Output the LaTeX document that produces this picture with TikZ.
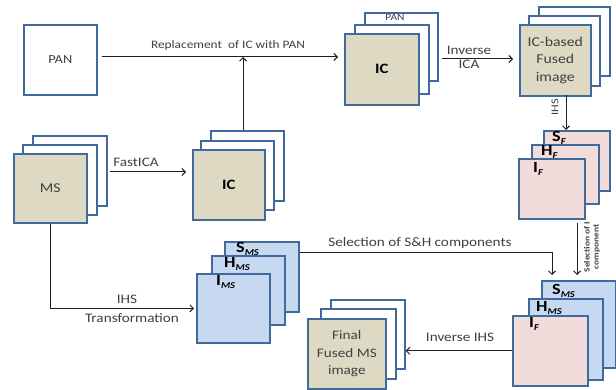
\documentclass[tikz,border=0pt]{standalone}
\usepackage{fontspec}
\setmainfont{Carlito}[FakeStretch=1.17]
\usetikzlibrary{arrows.meta,calc}
\definecolor{bord}{RGB}{65,106,156}
\definecolor{tanf}{RGB}{221,217,195}
\definecolor{bluef}{RGB}{198,217,241}
\definecolor{pinkf}{RGB}{242,220,219}
\definecolor{txt}{RGB}{64,64,64}
\definecolor{ln}{RGB}{30,30,30}
\newcommand{\fsz}[2]{\fontsize{#1}{#2}\selectfont}
\newcommand{\sublbl}[2]{{\fsz{15.5}{15.5}\bfseries #1}{\fsz{9}{9}\bfseries\itshape\raisebox{-2.5pt}{#2}}}
\newcommand{\bxn}[6]{\node[#1, minimum width=#4pt, minimum height=#5pt] (#2) at (#3) {#6};}
\begin{document}
\begin{tikzpicture}[x=1pt,y=-1pt,
  bx/.style={draw=bord, line width=1.6pt, rectangle, inner sep=0pt, anchor=north west, text=txt, align=center},
  wb/.style={bx, fill=white},
  tb/.style={bx, fill=tanf},
  bb/.style={bx, fill=bluef},
  pb/.style={bx, fill=pinkf},
  lbl/.style={text=txt, inner sep=0pt, align=center},
  sl/.style={text=black, inner sep=0pt, anchor=west},
  conn/.style={draw=ln, line width=1pt, -{Straight Barb[length=3.5pt,width=7pt]}},
]
\useasboundingbox (0,0) rectangle (616,390);
\fill[white] (0,0) rectangle (616,390);

% PAN
\bxn{wb, font=\fsz{12.3}{14}}{PAN}{23,24}{73}{70}{PAN}

% IC stack (top)
\bxn{wb}{ICtb}{364,12}{73}{68}{}
\node[lbl, font=\fsz{9.8}{10}] (lpan) at (395,17) {PAN};
\bxn{wb}{ICtm}{354,24}{74}{69}{}
\bxn{tb, font=\fsz{14.3}{15}\bfseries, text=black}{ICtf}{344,33}{74}{71}{IC}

% IC-based fused stack
\bxn{wb}{ICFb}{538,6}{71}{69}{}
\bxn{wb}{ICFm}{528,15}{71}{70}{}
\bxn{tb, font=\fsz{13.5}{17.7}}{ICFf}{519,24}{71}{71}{IC-based\\Fused\\image}

% pink stack F
\bxn{pb}{Pb}{543,130}{66}{60}{}
\node[sl] (sF) at (552,138) {\sublbl{S}{F}};
\bxn{pb}{Pm}{531,144}{67}{59}{}
\node[sl] (hF) at (541,152) {\sublbl{H}{F}};
\bxn{pb}{Pf}{518,158}{66}{60}{}
\node[sl] (iF) at (533,169) {\sublbl{I}{F}};

% MS stack
\bxn{wb}{MSb}{32,135}{74}{70}{}
\bxn{wb}{MSm}{22,144}{74}{70}{}
\bxn{tb, font=\fsz{13.5}{15}}{MSf}{13,153}{73}{69}{MS}

% IC stack (middle)
\bxn{wb}{IC2b}{210,130}{73}{70}{}
\bxn{wb}{IC2m}{200,140}{73}{69}{}
\bxn{tb, font=\fsz{14.3}{15}\bfseries, text=black}{IC2f}{192,149}{72}{70}{IC}

% blue stack MS
\bxn{bb}{Bb}{224,241}{74}{70}{}
\node[sl] (sMS) at (236,249) {\sublbl{S}{MS}};
\bxn{bb}{Bm}{211,255}{73}{69}{}
\node[sl] (hMS) at (224,264) {\sublbl{H}{MS}};
\bxn{bb}{Bf}{196,273}{73}{69}{}
\node[sl] (iMS) at (216,282) {\sublbl{I}{MS}};

% bottom-right stack
\bxn{bb}{BRb}{541,280}{74}{87}{}
\node[sl] (sMS2) at (552,291) {\sublbl{S}{MS}};
\bxn{bb}{BRm}{528,298}{74}{81}{}
\node[sl] (hMS2) at (536,308) {\sublbl{H}{MS}};
\bxn{pb}{BRf}{512,315}{75}{70}{}
\node[sl] (iF2) at (529,324) {\sublbl{I}{F}};

% final stack
\bxn{wb}{Fb}{330,299}{74}{69}{}
\bxn{wb}{Fm}{320,308}{75}{70}{}
\bxn{tb, font=\fsz{13}{17.8}}{Ff}{307,318}{78}{70}{Final\\Fused MS\\image}

% connectors
\coordinate (j1) at (243,57);
\draw[conn, shorten <=4pt, shorten >=6pt] (PAN.east |- j1) -- (j1 -| ICtf.west);
\node[lbl, font=\fsz{11.4}{12}] (lrep) at (228,45) {Replacement\ \ of IC with PAN};
\draw[conn] (IC2b.north -| j1) -- (j1);

\coordinate (ia) at (442,59);
\draw[conn, shorten >=6pt] (ia) -- (ia -| ICFf.west);
\node[lbl, font=\fsz{13}{14}] (linv) at (469,57) {Inverse\\ICA};

\coordinate (ih) at (566,95);
\draw[conn] (ih) -- (ih |- Pb.north);
\node[lbl, rotate=90, font=\fsz{10.5}{11}] (lihs) at (555,107) {IHS};

\coordinate (fa) at (110,172);
\draw[conn, shorten >=6pt] (fa) -- (fa -| IC2f.west);
\node[lbl, font=\fsz{13}{14}] (lfast) at (136,162) {FastICA};

\draw[conn, shorten >=2pt] (MSf.south) |- (Bf.west);
\node[lbl, font=\fsz{13}{14}] (lihs2) at (127,299) {IHS};
\node[lbl, font=\fsz{13}{14}] (ltr) at (132,318) {Transformation};

\coordinate (sh) at (552,253);
\draw[conn, shorten >=5pt] (Bb.east |- sh) -- (sh) -- (sh |- BRb.north);
\node[lbl, font=\fsz{13}{14}] (lsel) at (420,243) {Selection of S\&H components};

\coordinate (si) at (577,223);
\draw[conn, shorten >=5pt] (si) -- (si |- BRb.north);
\node[lbl, rotate=90, font=\fsz{8}{9}\bfseries] (lseli) at (592,247) {Selection of I\\component};

\draw[conn] (BRf.west) -- (BRf.west -| Fb.east);
\node[lbl, font=\fsz{13}{14}] (linvihs) at (460,337) {Inverse IHS};
\end{tikzpicture}
\end{document}
